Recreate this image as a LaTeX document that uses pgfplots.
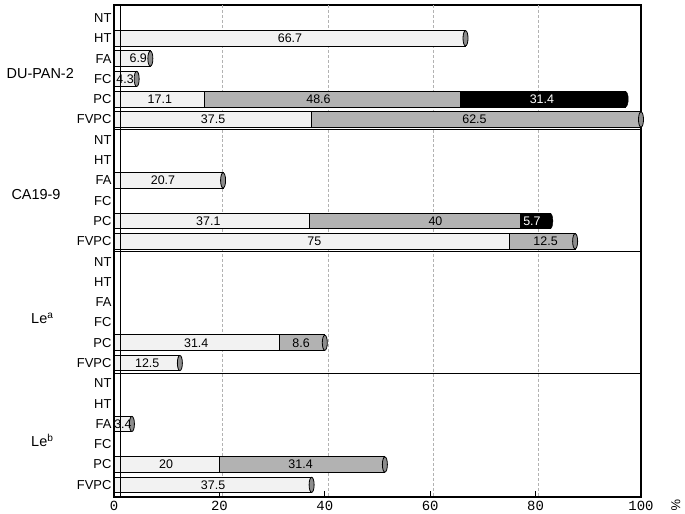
\documentclass[border=0pt]{standalone}
\usepackage{pgfplots}
\pgfplotsset{compat=1.18}
\usepackage{fontspec}
\setmainfont{Liberation Sans}
\newfontfamily\monofont{Liberation Mono}
\definecolor{barwhite}{gray}{0.95}
\definecolor{bargrey}{gray}{0.70}
\definecolor{capgrey}{gray}{0.55}
\tikzset{lab/.style={font=\fontsize{12.5}{14}\selectfont, inner sep=0pt},
         grp/.style={font=\fontsize{14.5}{16}\selectfont}}
\pgfplotsset{common/.style={at={(0,0)}, anchor=south west,
  scale only axis, width=527bp, height=492bp,
  xmin=0, xmax=100, ymin=-0.64, ymax=23.6, y dir=reverse, clip=false}}
\begin{document}
\begin{tikzpicture}
\useasboundingbox (-114bp,-17bp) rectangle (571bp,497bp);
\begin{axis}[
  common,
  xbar stacked,
  bar width=0.77,
  axis line style={line width=1.1pt},
  xtick={0,20,40,60,80,100},
  xticklabel style={font=\monofont\fontsize{14}{16}\selectfont, yshift=-1bp},
  /pgf/number format/assume math mode=true,
  tick align=inside,
  xtick pos=bottom,
  major tick length=6bp,
  xtick style={line width=1pt, black},
  ytick={0,...,23},
  yticklabels={NT,HT,FA,FC,PC,FVPC,NT,HT,FA,FC,PC,FVPC,NT,HT,FA,FC,PC,FVPC,NT,HT,FA,FC,PC,FVPC},
  yticklabel style={font=\fontsize{13}{15}\selectfont, xshift=1bp},
  ytick style={draw=none},
  extra x ticks={20.6,40.6,60.6,80.6},
  extra x tick labels={},
  extra x tick style={grid=major, major grid style={densely dashed, gray!60, line width=0.6pt}, major tick length=0pt},
  extra y ticks={5.5,11.5,17.5},
  extra y tick labels={},
  extra y tick style={grid=major, major grid style={black, line width=1pt}, major tick length=0pt},
]
% white segment
\addplot[fill=barwhite, draw=black, line width=0.9pt] coordinates {
(0,0) (66.7,1) (6.9,2) (4.3,3) (17.1,4) (37.5,5)
(0,6) (0,7) (20.7,8) (0,9) (37.1,10) (75,11)
(0,12) (0,13) (0,14) (0,15) (31.4,16) (12.5,17)
(0,18) (0,19) (3.4,20) (0,21) (20,22) (37.5,23)};
% grey segment
\addplot[fill=bargrey, draw=black, line width=0.9pt] coordinates {
(0,0) (0,1) (0,2) (0,3) (48.6,4) (62.5,5)
(0,6) (0,7) (0,8) (0,9) (40,10) (12.5,11)
(0,12) (0,13) (0,14) (0,15) (8.6,16) (0,17)
(0,18) (0,19) (0,20) (0,21) (31.4,22) (0,23)};
% black segment
\addplot[fill=black, draw=black, line width=0.9pt] coordinates {
(0,0) (0,1) (0,2) (0,3) (31.4,4) (0,5)
(0,6) (0,7) (0,8) (0,9) (5.7,10) (0,11)
(0,12) (0,13) (0,14) (0,15) (0,16) (0,17)
(0,18) (0,19) (0,20) (0,21) (0,22) (0,23)};
% end caps
\addplot[stack plots=false, only marks, mark=*, mark size=7.6bp,
  mark options={xscale=0.33, fill=capgrey, draw=black, line width=0.8pt}] coordinates {
(66.7,1) (6.9,2) (4.3,3) (100,5) (20.7,8) (87.5,11) (40,16) (12.5,17) (3.4,20) (51.4,22) (37.5,23)};
\addplot[stack plots=false, only marks, mark=*, mark size=7.6bp,
  mark options={xscale=0.33, fill=black, draw=black}] coordinates {(97.1,4) (82.8,10)};
\end{axis}
\begin{axis}[common, hide axis]
% segment labels
\node[lab] at (axis cs:33.4,1) {66.7};
\node[lab] at (axis cs:4.6,2) {6.9};
\node[lab] at (axis cs:2.1,3) {4.3};
\node[lab] at (axis cs:8.7,4) {17.1};
\node[lab] at (axis cs:38.8,4) {48.6};
\node[lab, text=white] at (axis cs:81.2,4) {31.4};
\node[lab] at (axis cs:18.8,5) {37.5};
\node[lab] at (axis cs:68.4,5) {62.5};
\node[lab] at (axis cs:9.3,8) {20.7};
\node[lab] at (axis cs:17.9,10) {37.1};
\node[lab] at (axis cs:61.0,10) {40};
\node[lab, text=white] at (axis cs:79.3,10) {5.7};
\node[lab] at (axis cs:38.0,11) {75};
\node[lab] at (axis cs:81.9,11) {12.5};
\node[lab] at (axis cs:15.6,16) {31.4};
\node[lab] at (axis cs:35.5,16) {8.6};
\node[lab] at (axis cs:6.3,17) {12.5};
\node[lab] at (axis cs:1.7,20) {3.4};
\node[lab] at (axis cs:9.9,22) {20};
\node[lab] at (axis cs:35.4,22) {31.4};
\node[lab] at (axis cs:18.8,23) {37.5};
% group labels
\node[grp] at (axis cs:-14.0,2.75) {DU-PAN-2};
\node[grp] at (axis cs:-14.8,8.7) {CA19-9};
\node[grp] at (axis cs:-13.6,14.8) {Le\textsuperscript{a}};
\node[grp] at (axis cs:-13.6,20.8) {Le\textsuperscript{b}};
% unit
\node[rotate=-90, font=\fontsize{13}{15}\selectfont] at (axis cs:106.6,24.0) {\%};
% inner back wall line
\draw[line width=0.8pt] (axis cs:1.2,-0.64) -- (axis cs:1.2,23.6);
\end{axis}
\end{tikzpicture}
\end{document}
